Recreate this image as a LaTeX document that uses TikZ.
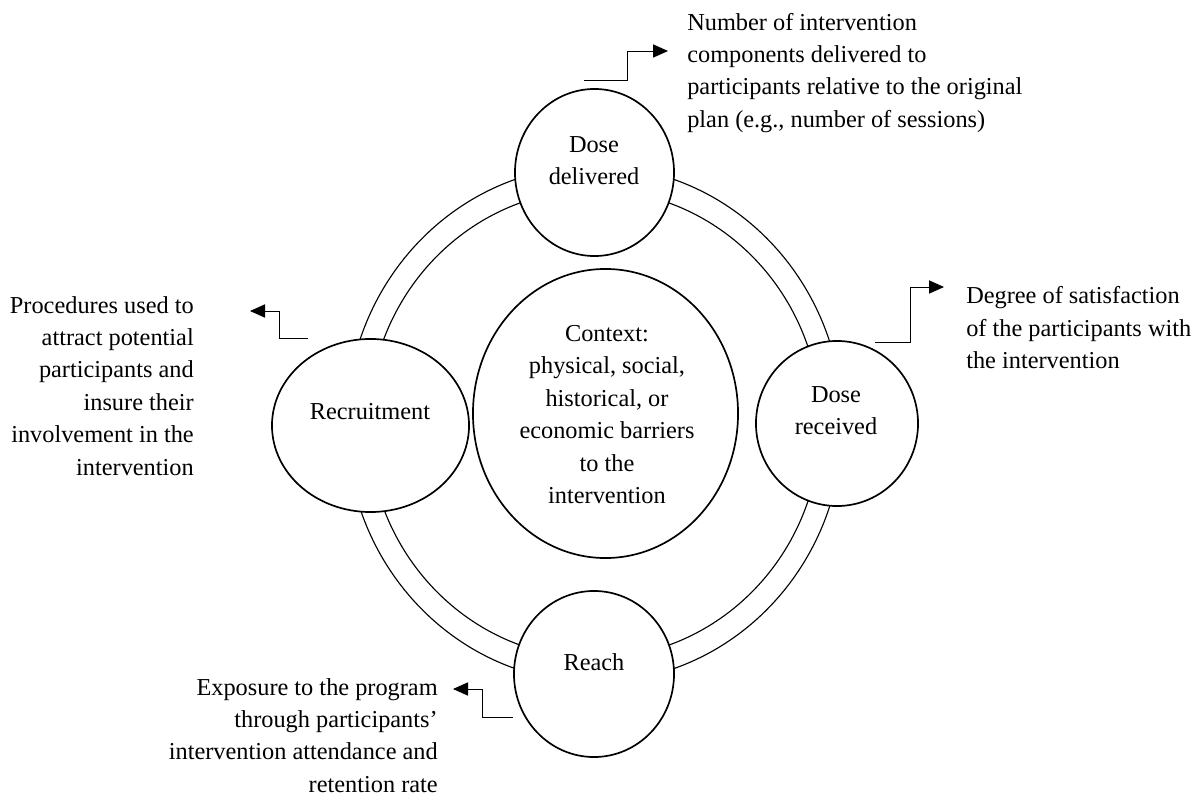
\documentclass[tikz,border=0pt]{standalone}
\usepackage{fontspec}
\setmainfont{Liberation Serif}
\usetikzlibrary{shapes.geometric}
\usetikzlibrary{arrows.meta}
\tikzset{
    bubble/.style={draw, ellipse, fill=white, line width=1.2pt, inner sep=0pt},
    ring/.style={draw, ellipse, line width=0.8pt, inner sep=0pt},
    lbl/.style={inner sep=0pt, align=center, font=\fontsize{17.3}{23.05}\selectfont},
    note/.style={inner sep=0pt, font=\fontsize{17.3}{23.05}\selectfont},
    conn/.style={line width=0.7pt, -{Triangle[length=0.375cm,width=0.33cm]}}
}

\begin{document}
\begin{tikzpicture}[x=0.025cm, y=-0.025cm]
    \useasboundingbox (0,0) rectangle (1199,794);

    % ring
    \node[ring, minimum width=12.4cm, minimum height=12.9cm] (outer) at (594.5,424) {};
    \node[ring, minimum width=11.3cm, minimum height=11.7cm] (inner) at (594.5,424) {};

    % circles
    \node[bubble, minimum width=6.625cm, minimum height=7.225cm] (ctx) at (605.5,413.5) {};
    \node[bubble, minimum width=3.975cm, minimum height=4.175cm] (dd) at (594.5,172.5) {};
    \node[bubble, minimum width=4.05cm, minimum height=4.125cm] (dr) at (837,423.5) {};
    \node[bubble, minimum width=4.925cm, minimum height=4.325cm] (rec) at (370.5,425.5) {};
    \node[bubble, minimum width=4cm, minimum height=4.15cm] (rch) at (594,674) {};

    \node[lbl, anchor=north] (ctxText) at (607,325) {Context:\\physical, social,\\historical, or\\economic barriers\\to the\\intervention};
    \node[lbl, anchor=north] (ddText) at (594,136) {Dose\\delivered};
    \node[lbl, anchor=north] (drText) at (836,386) {Dose\\received};
    \node[lbl, anchor=north] (recText) at (370,403) {Recruitment};
    \node[lbl, anchor=north] (rchText) at (594,653) {Reach};

    % notes
    \node[note, anchor=north west, align=left] (ddNote) at (687,12.7) {Number of intervention\\components delivered to\\participants relative to the original\\plan (e.g., number of sessions)};
    \node[note, anchor=north west, align=left] (drNote) at (966,286.5) {Degree of satisfaction\\of the participants with\\the intervention};
    \node[note, anchor=north east, align=right] (recNote) at (194,296) {Procedures used to\\attract potential\\participants and\\insure their\\involvement in the\\intervention};
    \node[note, anchor=north east, align=right] (rchNote) at (438,678) {Exposure to the program\\through participants'\\intervention attendance and\\retention rate};

    % arrows
    \coordinate (ddS) at (584,80);
    \coordinate (ddB) at (627,51);
    \coordinate (ddT) at (668,51);
    \draw[conn] (ddS) -| (ddB) -- (ddT);

    \coordinate (drS) at (875,342);
    \coordinate (drB) at (910,287);
    \coordinate (drT) at (944,287);
    \draw[conn] (drS) -| (drB) -- (drT);

    \coordinate (recS) at (308,338);
    \coordinate (recB) at (279,311);
    \coordinate (recT) at (250,311);
    \draw[conn] (recS) -| (recB) -- (recT);

    \coordinate (rchS) at (513,717);
    \coordinate (rchB) at (482,689);
    \coordinate (rchT) at (453,689);
    \draw[conn] (rchS) -| (rchB) -- (rchT);
\end{tikzpicture}
\end{document}
